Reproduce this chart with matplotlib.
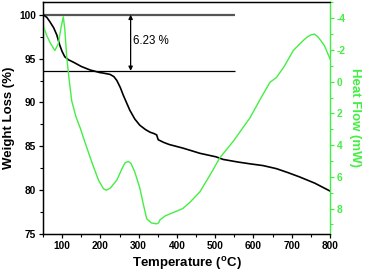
import numpy as np
import matplotlib.pyplot as plt
from matplotlib.ticker import MultipleLocator

plt.rcParams['font.family'] = ['Liberation Sans', 'DejaVu Sans']
plt.rcParams['axes.unicode_minus'] = False

# TGA curve (weight loss, %)
tga_temp = [50, 60, 68, 78, 86, 94, 100, 107, 117, 129, 150, 173, 199, 207, 225, 235, 243,
            252, 260, 277, 290, 303, 318, 330, 340, 347, 351, 365, 380, 415, 434, 460, 502,
            521, 560, 591, 625, 660, 690, 721, 760, 800]
tga_wt = [100, 99.7, 99.2, 98.5, 97.7, 96.5, 95.8, 95.2, 94.85, 94.6, 94.1, 93.7, 93.4, 93.35,
          93.2, 92.95, 92.5, 91.7, 90.8, 89.1, 88.1, 87.4, 86.9, 86.6, 86.45, 86.3, 85.75,
          85.45, 85.2, 84.8, 84.55, 84.2, 83.8, 83.5, 83.2, 83.0, 82.8, 82.45, 82.0, 81.5,
          80.8, 79.9]

# DSC curve (heat flow, mW)
dsc_temp = [50, 60, 70, 81, 90, 97, 103, 107, 112, 118, 125, 136, 147, 158, 168, 181, 195,
            208, 216, 226, 243, 258, 265, 273, 280, 290, 303, 312, 321, 333, 347, 352, 356,
            370, 395, 415, 434, 460, 486, 512, 547, 591, 620, 643, 660, 680, 704, 730, 742,
            752, 760, 769, 785, 800]
dsc_hf = [-3.57, -2.9, -2.4, -1.97, -2.4, -3.4, -4.1, -3.3, -1.55, -0.2, 1.2, 2.2, 2.9, 3.7,
          4.4, 5.3, 6.2, 6.75, 6.84, 6.7, 6.2, 5.4, 5.1, 5.03, 5.15, 5.7, 6.7, 7.7, 8.64, 8.9,
          8.96, 8.9, 8.7, 8.45, 8.2, 8.0, 7.6, 6.94, 5.9, 4.8, 3.76, 2.27, 1.0, 0.04, -0.27,
          -0.95, -1.97, -2.6, -2.85, -2.97, -3.0, -2.82, -2.3, -1.45]

loss_top = 100.0
loss_bottom = 93.6
loss_text = "6.23 %"

green = '#44ee44'

fig = plt.figure(figsize=(3.66, 2.74), dpi=100)
ax = fig.add_axes([0.1175, 0.146, 0.7841, 0.8467])
ax2 = ax.twinx()

ax.plot(tga_temp, tga_wt, color='black', lw=1.2, zorder=3)
ax2.plot(dsc_temp, dsc_hf, color=green, lw=1.0)

ax.hlines(loss_top, 50, 552, color='#555555', lw=1.6)
ax.hlines(loss_bottom, 50, 552, color='black', lw=0.9)
ax.annotate('', xy=(279, loss_bottom), xytext=(279, loss_top),
            arrowprops=dict(arrowstyle='<|-|>', color='black', lw=0.9,
                            mutation_scale=6, shrinkA=0, shrinkB=0))
ax.text(284, 97.0, loss_text, fontsize=8.3, va='center', ha='left')

ax.set_xlim(50, 800)
ax.set_ylim(75, 101.45)
ax2.set_ylim(9.6, -5.03)

ax.xaxis.set_major_locator(MultipleLocator(100))
ax.xaxis.set_minor_locator(MultipleLocator(50))
ax.yaxis.set_major_locator(MultipleLocator(5))
ax.yaxis.set_minor_locator(MultipleLocator(2.5))
ax2.yaxis.set_major_locator(MultipleLocator(2))
ax2.yaxis.set_minor_locator(MultipleLocator(1))

ax.tick_params(which='major', direction='out', length=3, width=0.9, labelsize=7.3, pad=2)
ax.tick_params(which='minor', direction='out', length=2, width=0.8)
ax2.tick_params(which='major', direction='out', length=3, width=0.9, labelsize=7.3, pad=2,
                colors=green)
ax2.tick_params(which='minor', direction='out', length=2, width=0.8, colors=green)
for lab in ax.get_xticklabels() + ax.get_yticklabels() + ax2.get_yticklabels():
    lab.set_fontweight('bold')

for s in ['left', 'bottom', 'top']:
    ax.spines[s].set_linewidth(1.0)
ax2.spines['right'].set_color(green)
ax2.spines['right'].set_linewidth(1.0)
ax.spines['right'].set_visible(False)

ax.set_xlabel('Temperature ($\\mathregular{^{o}}$C)', fontsize=9.5, fontweight='bold', labelpad=3)
ax.set_ylabel('Weight Loss (%)', fontsize=9.5, fontweight='bold', labelpad=3)
ax2.set_ylabel('Heat Flow (mW)', fontsize=9.5, fontweight='bold', color=green,
               rotation=270, labelpad=11)

fig.savefig('out.png', dpi=100)
